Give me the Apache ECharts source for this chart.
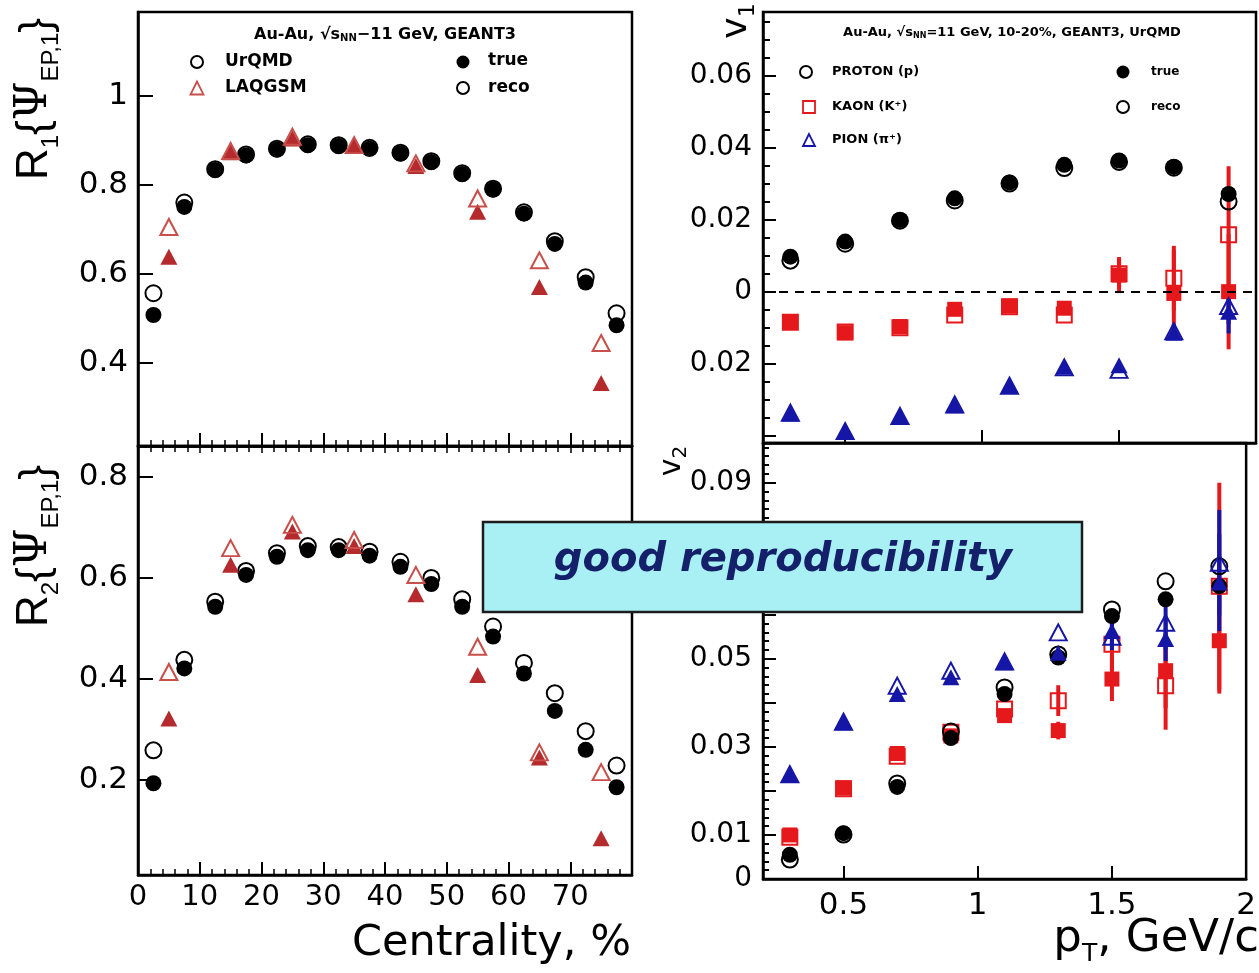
<!DOCTYPE html>
<html>
<head>
<meta charset="utf-8">
<script src="https://cdn.jsdelivr.net/npm/echarts@6/dist/echarts.min.js"></script>
<style>
  html, body { margin: 0; padding: 0; background: #fff; }
  #chart { width: 1259px; height: 973px; }
</style>
</head>
<body>
<div id="chart"></div>
<script>
// ---- event-plane resolution vs centrality ----
const centBins = [2.5, 7.5, 12.5, 17.5, 22.5, 27.5, 32.5, 37.5, 42.5, 47.5, 52.5, 57.5, 62.5, 67.5, 72.5, 77.5];
const laqBins = [5, 15, 25, 35, 45, 55, 65, 75];

const r1UrqmdTrue = [0.508, 0.751, 0.834, 0.867, 0.880, 0.890, 0.888, 0.882, 0.871, 0.852, 0.825, 0.790, 0.736, 0.668, 0.581, 0.485];
const r1UrqmdReco = [0.557, 0.761, 0.836, 0.869, 0.882, 0.892, 0.890, 0.884, 0.873, 0.854, 0.827, 0.792, 0.739, 0.674, 0.593, 0.512];
const r1LaqTrue   = [0.639, 0.874, 0.905, 0.889, 0.843, 0.740, 0.571, 0.355];
const r1LaqReco   = [0.706, 0.877, 0.909, 0.890, 0.849, 0.770, 0.631, 0.445];

const r2UrqmdTrue = [0.194, 0.421, 0.543, 0.606, 0.642, 0.655, 0.655, 0.644, 0.622, 0.588, 0.543, 0.484, 0.411, 0.337, 0.260, 0.186];
const r2UrqmdReco = [0.259, 0.438, 0.553, 0.614, 0.649, 0.663, 0.661, 0.652, 0.632, 0.600, 0.558, 0.504, 0.432, 0.372, 0.297, 0.229];
const r2LaqTrue   = [0.322, 0.626, 0.692, 0.663, 0.568, 0.408, 0.245, 0.085];
const r2LaqReco   = [0.414, 0.659, 0.705, 0.675, 0.606, 0.464, 0.255, 0.216];

// ---- directed flow v1 vs pT ----
const ptBins = [0.3, 0.5, 0.7, 0.9, 1.1, 1.3, 1.5, 1.7, 1.9];

const v1ProtonTrue = [0.0097, 0.0139, 0.0199, 0.0259, 0.0303, 0.0352, 0.0364, 0.0346, 0.0271];
const v1ProtonReco = [0.0086, 0.0133, 0.0197, 0.0253, 0.0300, 0.0343, 0.0360, 0.0344, 0.0250];
const v1KaonTrue   = [-0.0083, -0.0114, -0.0097, -0.0049, -0.0040, -0.0046, 0.0046, -0.0005, 0.0000];
const v1KaonReco   = [-0.0085, -0.0112, -0.0100, -0.0065, -0.0042, -0.0065, 0.0050, 0.0037, 0.0158];
const v1KaonTrueErr = [0, 0, 0, 0, 0, 0, 0.0050, 0.0120, 0.0160];
const v1KaonRecoErr = [0, 0, 0, 0, 0, 0, 0.0040, 0.0090, 0.0190];
const v1PionTrue   = [-0.0338, -0.0389, -0.0347, -0.0315, -0.0259, -0.0208, -0.0204, -0.0114, -0.0056];
const v1PionReco   = [-0.0336, -0.0387, -0.0345, -0.0313, -0.0261, -0.0210, -0.0217, -0.0110, -0.0040];
const v1PionTrueErr = [0, 0, 0, 0, 0, 0, 0, 0.0020, 0.0060];
const v1PionRecoErr = [0, 0, 0, 0, 0, 0, 0, 0.0020, 0.0050];

// ---- elliptic flow v2 vs pT ----
const v2ProtonTrue = [0.0055, 0.0104, 0.0209, 0.0320, 0.0420, 0.0503, 0.0597, 0.0635, 0.0665];
const v2ProtonReco = [0.0044, 0.0101, 0.0217, 0.0335, 0.0435, 0.0510, 0.0612, 0.0676, 0.0710];
const v2KaonTrue   = [0.0100, 0.0207, 0.0285, 0.0325, 0.0371, 0.0337, 0.0454, 0.0473, 0.0541];
const v2KaonReco   = [0.0095, 0.0205, 0.0279, 0.0333, 0.0386, 0.0405, 0.0533, 0.0439, 0.0665];
const v2KaonTrueErr = [0, 0, 0, 0, 0, 0.0020, 0.0050, 0.0085, 0.0120];
const v2KaonRecoErr = [0, 0, 0, 0, 0, 0.0035, 0.0060, 0.0100, 0.0235];
const v2PionTrue   = [0.0236, 0.0356, 0.0420, 0.0458, 0.0492, 0.0514, 0.0563, 0.0545, 0.0673];
const v2PionReco   = [0.0238, 0.0357, 0.0439, 0.0473, 0.0494, 0.0560, 0.0550, 0.0582, 0.0718];
const v2PionTrueErr = [0, 0, 0, 0, 0, 0, 0.0030, 0.0050, 0.0110];
const v2PionRecoErr = [0, 0, 0, 0, 0, 0, 0.0030, 0.0060, 0.0120];

// ---- tick labels ----
const centTicks = [0, 10, 20, 30, 40, 50, 60, 70];
const centTickText = ['0', '10', '20', '30', '40', '50', '60', '70'];
const ptTicks = [0.5, 1.0, 1.5, 2.0];
const ptTickText = ['0.5', '1', '1.5', '2'];
const r1Ticks = [0.4, 0.6, 0.8, 1.0];
const r1TickText = ['0.4', '0.6', '0.8', '1'];
const r2Ticks = [0.2, 0.4, 0.6, 0.8];
const r2TickText = ['0.2', '0.4', '0.6', '0.8'];
const v1Ticks = [-0.02, 0, 0.02, 0.04, 0.06];
const v1TickText = ['0.02', '0', '0.02', '0.04', '0.06'];
const v2Ticks = [0, 0.01, 0.03, 0.05, 0.07, 0.09];
const v2TickText = ['0', '0.01', '0.03', '0.05', '0.07', '0.09'];

// ---- styling ----
const BLACK = '#000000';
const LAQ_RED = '#b52a2c';
const LAQ_RED_OPEN = '#c84f4a';
const KAON_RED = '#e5191c';
const PION_BLUE = '#1616a6';
const FONT = 'DejaVu Sans';

function labelFrom(ticks, texts) {
  return function (v) {
    const i = ticks.findIndex(t => Math.abs(t - v) < 1e-7);
    return i < 0 ? '' : texts[i];
  };
}

function axisBase(gridIndex, min, max) {
  return {
    type: 'value', gridIndex, min, max,
    axisLine: { show: true, onZero: false, lineStyle: { color: BLACK, width: 2.5 } },
    axisTick: { show: true, inside: true, length: 13, lineStyle: { color: BLACK, width: 2 } },
    splitLine: { show: false },
    axisLabel: { show: false }
  };
}

function tickLabels(ticks, texts, margin, size) {
  return {
    show: true, margin, color: BLACK, fontFamily: FONT, fontSize: size,
    showMinLabel: true, showMaxLabel: true,
    formatter: labelFrom(ticks, texts)
  };
}

const centMinor = { show: true, splitNumber: 5, length: 6, lineStyle: { color: BLACK, width: 1.5 } };

const xAxes = [
  // top-left: centrality, no labels
  Object.assign(axisBase(0, 0, 80), { interval: 10, minorTick: centMinor }),
  // bottom-left: centrality with labels
  Object.assign(axisBase(1, 0, 80), {
    interval: 10, minorTick: centMinor,
    axisLabel: tickLabels(centTicks, centTickText, 8, 29)
  }),
  // top-right: pT, no labels
  Object.assign(axisBase(2, 0.2, 2.0), { splitNumber: 4 }),
  // bottom-right: pT with labels
  Object.assign(axisBase(3, 0.2, 2.0), {
    splitNumber: 4,
    axisLabel: tickLabels(ptTicks, ptTickText, 11, 31)
  }),
  // bottom-left upper edge ticks
  Object.assign(axisBase(1, 0, 80), {
    position: 'top', interval: 10,
    axisTick: { show: true, inside: true, length: 7, lineStyle: { color: BLACK, width: 1.5 } },
    minorTick: centMinor
  })
];

const leftYTick = { show: true, inside: true, length: 15, lineStyle: { color: BLACK, width: 2 } };

const yAxes = [
  Object.assign(axisBase(0, 0.2135, 1.1894), {
    splitNumber: 5, axisTick: leftYTick,
    axisLabel: tickLabels(r1Ticks, r1TickText, 10, 31)
  }),
  Object.assign(axisBase(1, 0.0125, 0.861), {
    splitNumber: 5, axisTick: leftYTick,
    axisLabel: tickLabels(r2Ticks, r2TickText, 10, 31)
  }),
  Object.assign(axisBase(2, -0.042, 0.0776), {
    splitNumber: 6,
    minorTick: { show: true, splitNumber: 4, length: 7, lineStyle: { color: BLACK, width: 2 } },
    axisLabel: tickLabels(v1Ticks, v1TickText, 11, 28)
  }),
  Object.assign(axisBase(3, 0, 0.099), {
    interval: 0.01,
    minorTick: { show: true, splitNumber: 5, length: 6, lineStyle: { color: BLACK, width: 2 } },
    axisLabel: tickLabels(v2Ticks, v2TickText, 11, 28)
  })
];

function pairs(xs, ys) { return xs.map((x, i) => [x, ys[i]]); }

function markers(xi, yi, xs, ys, symbol, size, color, filled) {
  return {
    type: 'scatter', xAxisIndex: xi, yAxisIndex: yi, silent: true, z: 3,
    data: pairs(xs, ys), symbol, symbolSize: size,
    itemStyle: filled
      ? { color, borderWidth: 0, opacity: 1 }
      : { color: 'rgba(255,255,255,0)', borderColor: color, borderWidth: 2, opacity: 1 }
  };
}

function errorBars(xi, yi, xs, ys, errs, color) {
  const data = [];
  xs.forEach((x, i) => { if (errs[i] > 0) data.push([x, ys[i] - errs[i], ys[i] + errs[i]]); });
  return {
    type: 'custom', xAxisIndex: xi, yAxisIndex: yi, silent: true, z: 2, data,
    renderItem(params, api) {
      const a = api.coord([api.value(0), api.value(1)]);
      const b = api.coord([api.value(0), api.value(2)]);
      return { type: 'line', shape: { x1: a[0], y1: a[1], x2: b[0], y2: b[1] },
               style: { stroke: color, lineWidth: 4 } };
    }
  };
}

const CIR = 16;
const SQR = 15;
const TRI = [17, 16];

const series = [
  // R1
  markers(0, 0, centBins, r1UrqmdTrue, 'circle', CIR, BLACK, true),
  markers(0, 0, centBins, r1UrqmdReco, 'circle', CIR, BLACK, false),
  markers(0, 0, laqBins, r1LaqTrue, 'triangle', TRI, LAQ_RED, true),
  markers(0, 0, laqBins, r1LaqReco, 'triangle', TRI, LAQ_RED_OPEN, false),
  // R2
  markers(1, 1, centBins, r2UrqmdTrue, 'circle', CIR, BLACK, true),
  markers(1, 1, centBins, r2UrqmdReco, 'circle', CIR, BLACK, false),
  markers(1, 1, laqBins, r2LaqTrue, 'triangle', TRI, LAQ_RED, true),
  markers(1, 1, laqBins, r2LaqReco, 'triangle', TRI, LAQ_RED_OPEN, false),
  // v1
  errorBars(2, 2, ptBins, v1KaonReco, v1KaonRecoErr, KAON_RED),
  errorBars(2, 2, ptBins, v1KaonTrue, v1KaonTrueErr, KAON_RED),
  errorBars(2, 2, ptBins, v1PionReco, v1PionRecoErr, PION_BLUE),
  errorBars(2, 2, ptBins, v1PionTrue, v1PionTrueErr, PION_BLUE),
  Object.assign(markers(2, 2, ptBins, v1ProtonTrue, 'circle', CIR, BLACK, true), {
    markLine: {
      silent: true, symbol: 'none', label: { show: false },
      lineStyle: { color: BLACK, width: 2, type: [9, 7] },
      data: [{ yAxis: 0 }]
    }
  }),
  markers(2, 2, ptBins, v1ProtonReco, 'circle', CIR, BLACK, false),
  markers(2, 2, ptBins, v1KaonTrue, 'rect', SQR, KAON_RED, true),
  markers(2, 2, ptBins, v1KaonReco, 'rect', SQR, KAON_RED, false),
  markers(2, 2, ptBins, v1PionTrue, 'triangle', TRI, PION_BLUE, true),
  markers(2, 2, ptBins, v1PionReco, 'triangle', TRI, PION_BLUE, false),
  // v2
  errorBars(3, 3, ptBins, v2KaonReco, v2KaonRecoErr, KAON_RED),
  errorBars(3, 3, ptBins, v2KaonTrue, v2KaonTrueErr, KAON_RED),
  errorBars(3, 3, ptBins, v2PionReco, v2PionRecoErr, PION_BLUE),
  errorBars(3, 3, ptBins, v2PionTrue, v2PionTrueErr, PION_BLUE),
  markers(3, 3, ptBins, v2KaonReco, 'rect', SQR, KAON_RED, false),
  markers(3, 3, ptBins, v2KaonTrue, 'rect', SQR, KAON_RED, true),
  markers(3, 3, ptBins, v2ProtonTrue, 'circle', CIR, BLACK, true),
  markers(3, 3, ptBins, v2ProtonReco, 'circle', CIR, BLACK, false),
  markers(3, 3, ptBins, v2PionTrue, 'triangle', TRI, PION_BLUE, true),
  markers(3, 3, ptBins, v2PionReco, 'triangle', TRI, PION_BLUE, false)
];

// ---- titles, legends and the annotation box ----
const Z = 100;
function txt(x, y, text, opts) {
  return { type: 'text', x, y, z: Z, silent: true,
           style: Object.assign({ text, fill: BLACK, align: 'left', verticalAlign: 'middle' }, opts) };
}
function ring(cx, cy, r, color) {
  return { type: 'circle', z: Z, silent: true, shape: { cx, cy, r },
           style: { fill: 'none', stroke: color, lineWidth: 2 } };
}
function dot(cx, cy, r, color) {
  return { type: 'circle', z: Z, silent: true, shape: { cx, cy, r }, style: { fill: color } };
}
function tri(cx, cy, s, color) {
  return { type: 'polygon', z: Z, silent: true,
           shape: { points: [[cx, cy - s / 2], [cx - s / 2, cy + s / 2], [cx + s / 2, cy + s / 2]] },
           style: { fill: 'none', stroke: color, lineWidth: 1.8 } };
}
function box(cx, cy, s, color) {
  return { type: 'rect', z: Z, silent: true,
           shape: { x: cx - s / 2, y: cy - s / 2, width: s, height: s },
           style: { fill: 'none', stroke: color, lineWidth: 1.8 } };
}

// R{Psi_EP,1} axis titles: main glyphs, serif psi, subscripts
const titleRich = {
  m: { fontFamily: 'Liberation Sans', fontSize: 44, lineHeight: 50, verticalAlign: 'top' },
  g: { fontFamily: 'DejaVu Serif', fontSize: 44, lineHeight: 50, verticalAlign: 'top' },
  s: { fontFamily: 'Liberation Sans', fontSize: 24, verticalAlign: 'bottom' }
};
function resolutionTitle(x, y, order) {
  return { type: 'text', x, y, rotation: Math.PI / 2, z: Z, silent: true,
           style: { text: '{m|R}{s|' + order + '}{m|{}{g|Ψ}{s|EP,1}}',
                    rich: titleRich, fontFamily: 'Liberation Sans', fontSize: 44, fill: BLACK,
                    align: 'center', verticalAlign: 'middle' } };
}

const legendBold = { fontFamily: FONT, fontWeight: 'bold' };

const graphics = [
  resolutionTitle(38, 99, 1),
  resolutionTitle(38, 546, 2),
  // right y titles
  { type: 'text', x: 739, y: 21, rotation: Math.PI / 2, z: Z, silent: true,
    style: { text: '{v|v}{s|1}', fill: BLACK, align: 'center', verticalAlign: 'middle',
             rich: { v: { fontFamily: FONT, fontSize: 36, lineHeight: 40, verticalAlign: 'top' },
                     s: { fontFamily: FONT, fontSize: 22, verticalAlign: 'bottom' } } } },
  { type: 'text', x: 674, y: 461, rotation: Math.PI / 2, z: Z, silent: true,
    style: { text: '{v|v}{s|2}', fill: BLACK, align: 'center', verticalAlign: 'middle',
             rich: { v: { fontFamily: FONT, fontSize: 30, lineHeight: 34, verticalAlign: 'top' },
                     s: { fontFamily: FONT, fontSize: 20, verticalAlign: 'bottom' } } } },
  // x titles
  txt(631, 944, 'Centrality, %', { align: 'right', fontFamily: FONT, fontSize: 43 }),
  { type: 'text', x: 1259, y: 942, z: Z, silent: true,
    style: { text: '{m|p}{s|T}{m|, GeV/c}', fill: BLACK, align: 'right', verticalAlign: 'middle',
             rich: { m: { fontFamily: FONT, fontSize: 45, lineHeight: 50, verticalAlign: 'top' },
                     s: { fontFamily: FONT, fontSize: 25, verticalAlign: 'bottom' } } } },

  // R1 legend
  { type: 'text', x: 385, y: 35, z: Z, silent: true,
    style: { text: 'Au-Au, √{o|s}{n|NN}−11 GeV, GEANT3', fill: BLACK, align: 'center', verticalAlign: 'middle',
             fontFamily: FONT, fontWeight: 'bold', fontSize: 16,
             rich: { o: { fontFamily: FONT, fontWeight: 'bold', fontSize: 16 },
                     n: { fontFamily: FONT, fontWeight: 'bold', fontSize: 10, verticalAlign: 'bottom', lineHeight: 15 } } } },
  ring(197, 62, 6, BLACK),
  txt(225, 62, 'UrQMD', Object.assign({ fontSize: 17 }, legendBold)),
  tri(197, 88, 13, LAQ_RED_OPEN),
  txt(225, 88, 'LAQGSM', Object.assign({ fontSize: 17 }, legendBold)),
  dot(463, 62, 6.5, BLACK),
  txt(488, 61, 'true', Object.assign({ fontSize: 17 }, legendBold)),
  ring(463, 88, 6, BLACK),
  txt(488, 88, 'reco', Object.assign({ fontSize: 17 }, legendBold)),

  // v1 legend
  { type: 'text', x: 1012, y: 33, z: Z, silent: true,
    style: { text: 'Au-Au, √{o|s}{n|NN}=11 GeV, 10-20%, GEANT3, UrQMD', fill: BLACK, align: 'center', verticalAlign: 'middle',
             fontFamily: FONT, fontWeight: 'bold', fontSize: 13,
             rich: { o: { fontFamily: FONT, fontWeight: 'bold', fontSize: 13 },
                     n: { fontFamily: FONT, fontWeight: 'bold', fontSize: 8, verticalAlign: 'bottom', lineHeight: 13 } } } },
  ring(806, 72, 6, BLACK),
  txt(832, 72, 'PROTON (p)', Object.assign({ fontSize: 13 }, legendBold)),
  box(809, 107, 12, KAON_RED),
  txt(832, 107, 'KAON (K⁺)', Object.assign({ fontSize: 13 }, legendBold)),
  tri(809, 140, 12, PION_BLUE),
  txt(832, 140, 'PION (π⁺)', Object.assign({ fontSize: 13 }, legendBold)),
  dot(1123, 72, 6.5, BLACK),
  txt(1151, 72, 'true', Object.assign({ fontSize: 12 }, legendBold)),
  ring(1123, 107, 6, BLACK),
  txt(1151, 107, 'reco', Object.assign({ fontSize: 12 }, legendBold)),

  // annotation box
  { type: 'rect', z: Z, silent: true,
    shape: { x: 483, y: 522, width: 599, height: 90 },
    style: { fill: '#a9f0f4', stroke: '#1c1c1c', lineWidth: 2.5 } },
  txt(783, 561, 'good reproducibility',
      { align: 'center', fill: '#15206a', fontFamily: FONT, fontStyle: 'italic', fontWeight: 'bold', fontSize: 40 })
];

const chart = echarts.init(document.getElementById('chart'), null, { renderer: 'canvas' });
chart.setOption({
  animation: false,
  backgroundColor: '#ffffff',
  grid: [
    { left: 138, top: 12, width: 494, height: 434, show: true, borderColor: BLACK, borderWidth: 2.5, backgroundColor: 'transparent' },
    { left: 138, top: 446, width: 494, height: 429, show: true, borderColor: BLACK, borderWidth: 2.5, backgroundColor: 'transparent' },
    { left: 763, top: 12, width: 493, height: 431, show: true, borderColor: BLACK, borderWidth: 2.5, backgroundColor: 'transparent' },
    { left: 763, top: 443, width: 493, height: 436, show: true, borderColor: BLACK, borderWidth: 2.5, backgroundColor: 'transparent' }
  ],
  xAxis: xAxes,
  yAxis: yAxes,
  series,
  graphic: { elements: graphics }
});
</script>
</body>
</html>
